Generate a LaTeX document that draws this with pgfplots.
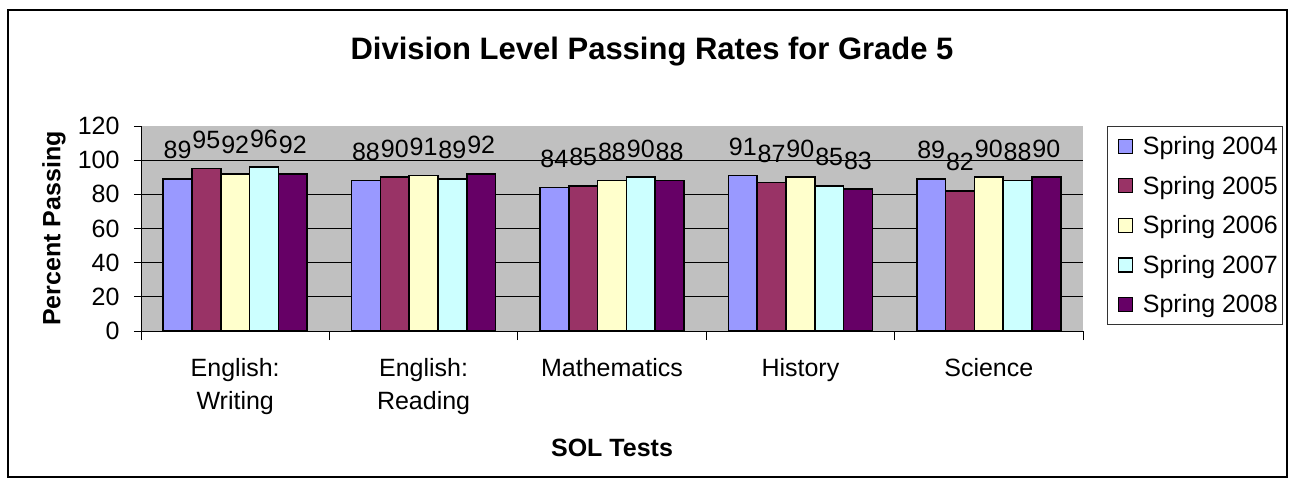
\documentclass[border=0pt]{standalone}
\usepackage{pgfplots}
\pgfplotsset{compat=1.18}
\usepackage{fontspec}
\setmainfont{Liberation Sans}
\definecolor{c04}{HTML}{9999FF}
\definecolor{c05}{HTML}{993366}
\definecolor{c06}{HTML}{FFFFCC}
\definecolor{c07}{HTML}{CCFFFF}
\definecolor{c08}{HTML}{660066}
\definecolor{bg}{HTML}{C0C0C0}
\begin{document}
\begin{tikzpicture}
\useasboundingbox (0,0) rectangle (1291pt,485pt);
\draw[line width=1.5pt] (8pt,8pt) rectangle (1287pt,475pt);
\begin{axis}[
  /pgf/number format/assume math mode=true,
  at={(141pt,154pt)}, anchor=south west,
  width=942pt, height=205pt, scale only axis,
  ymin=0, ymax=120, ytick={0,20,...,120},
  xmin=-0.5, xmax=4.5,
  xtick={0,1,2,3,4},
  xticklabels={{English:\\Writing},{English:\\Reading},Mathematics,History,Science},
  minor xtick={-0.5,0.5,...,4.5},
  major x tick style={draw=none},
  minor x tick style={black, line width=0.8pt},
  minor tick length=9pt,
  major tick length=7pt,
  tick align=outside,
  y tick style={black, line width=0.8pt},
  axis x line*=bottom, axis y line*=left,
  axis line style={black, line width=1pt, -},
  axis background/.style={fill=bg},
  extra y ticks={20,40,60,80,100},
  extra y tick labels={},
  extra y tick style={ymajorgrids=true, major tick length=0pt},
  grid style={black, line width=0.8pt},
  tick label style={font=\fontsize{25}{33}\selectfont},
  yticklabel style={xshift=-11pt},
  xticklabel style={align=center, yshift=-17pt},
  ybar=0pt, bar width=28.8pt,
  nodes near coords,
  every node near coord/.append style={font=\fontsize{25}{28}\selectfont, inner sep=0pt, yshift=19pt, black},
  title={Division Level Passing Rates for Grade 5},
  title style={font=\fontsize{31}{35}\selectfont\bfseries, at={(axis description cs:0.5425,1.332)}, anchor=center},
  xlabel={SOL Tests},
  xlabel style={font=\fontsize{25}{29}\selectfont\bfseries, at={(axis description cs:0.5,-0.571)}, anchor=center},
  ylabel={Percent Passing},
  ylabel style={font=\fontsize{25}{29}\selectfont\bfseries, at={(axis description cs:-0.0925,0.5)}, anchor=center, rotate=0},
  legend style={at={(axis description cs:1.0255,1.0)}, anchor=north west, draw=black!80, line width=0.8pt,
    font=\fontsize{25}{29}\selectfont, row sep=16pt, inner xsep=5pt, inner ysep=8pt,
    nodes={inner xsep=0pt}, cells={anchor=west}},
  legend image code/.code={\path (0pt,0pt) (29pt,0pt);\draw[#1, line width=1.2pt] (5pt,-7pt) rectangle (19pt,7pt);},
]
\addplot[fill=c04, draw=black, line width=1.5pt] coordinates {(0,89) (1,88) (2,84) (3,91) (4,89)};
\addplot[fill=c05, draw=black, line width=1.5pt] coordinates {(0,95) (1,90) (2,85) (3,87) (4,82)};
\addplot[fill=c06, draw=black, line width=1.5pt] coordinates {(0,92) (1,91) (2,88) (3,90) (4,90)};
\addplot[fill=c07, draw=black, line width=1.5pt] coordinates {(0,96) (1,89) (2,90) (3,85) (4,88)};
\addplot[fill=c08, draw=black, line width=1.5pt] coordinates {(0,92) (1,92) (2,88) (3,83) (4,90)};
\legend{Spring 2004,Spring 2005,Spring 2006,Spring 2007,Spring 2008}
\end{axis}
\end{tikzpicture}
\end{document}
